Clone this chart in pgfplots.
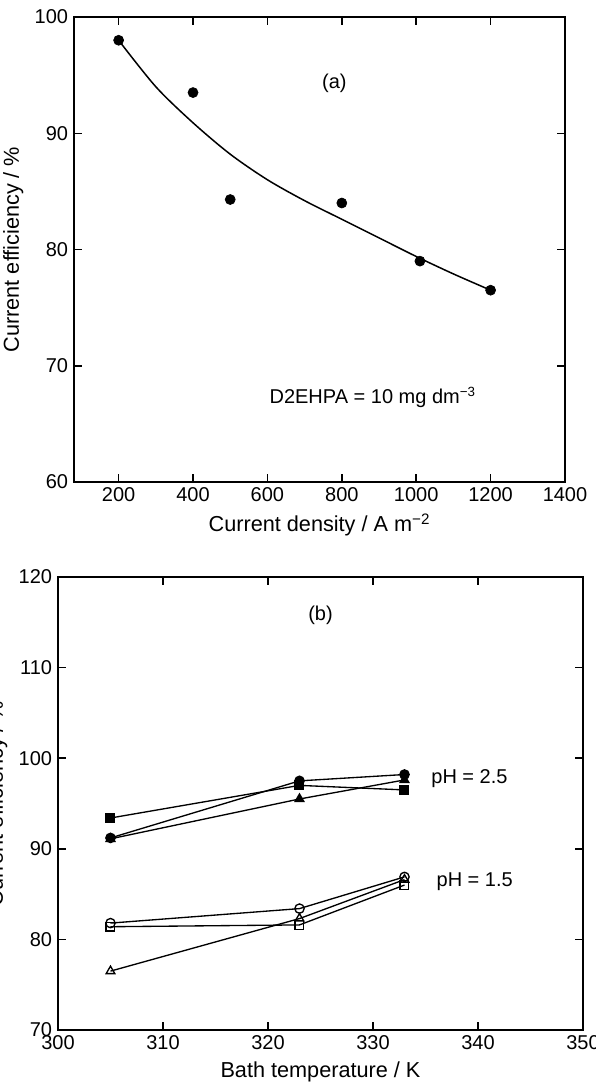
\documentclass[border=0pt]{standalone}
\usepackage{pgfplots}
\pgfplotsset{compat=1.18}
\usepackage{fontspec}
\setmainfont{Liberation Sans}
\pgfplotsset{
  every axis/.append style={
    scale only axis,
    axis line style={line width=1.1pt},
    tick style={line width=0.9pt, black},
    major tick length=5pt,
    tick align=inside,
    /pgf/number format/assume math mode=true,
    /pgf/number format/1000 sep={},
    ticklabel style={font=\fontsize{12}{14}\selectfont},
    label style={font=\fontsize{13}{15}\selectfont},
  }
}
\begin{document}
\begin{tikzpicture}
\useasboundingbox (0,0) rectangle (357pt,-651pt);
% ---------------- (a) ----------------
\begin{axis}[
  at={(44.4pt,-10.2pt)}, anchor=north west,
  width=294.6pt, height=279pt,
  xmin=80, xmax=1400, ymin=60, ymax=100,
  xtick={200,400,...,1400}, ytick={60,70,...,100},
  xlabel={Current density / A m\textsuperscript{−2}},
  ylabel={Current efficiency / \%},
]
\addplot[smooth, line width=0.9pt, no marks] coordinates {
(200,98.0)(300,94.0)(400,90.9)(500,88.2)(600,86.0)(700,84.2)(800,82.6)(900,81.0)(1000,79.4)(1100,77.9)(1200,76.5)};
\addplot[only marks, mark=*, mark size=3pt, black] coordinates {
(200,98.0)(400,93.5)(500,84.3)(800,84.0)(1010,79.0)(1200,76.5)};
\node[font=\fontsize{12}{14}\selectfont] at (axis cs:780,94.3) {(a)};
\node[anchor=west, font=\fontsize{12}{14}\selectfont] at (axis cs:590,67.3) {D2EHPA = 10 mg dm\textsuperscript{−3}};
\end{axis}
% ---------------- (b) ----------------
\begin{axis}[
  at={(34.8pt,-346.2pt)}, anchor=north west,
  width=315pt, height=271.8pt,
  xmin=300, xmax=350, ymin=70, ymax=120,
  xtick={300,310,...,350}, ytick={70,80,...,120},
  xlabel={Bath temperature / K},
  ylabel={Current efficiency / \%},
  every axis plot/.append style={line width=0.8pt, black},
]
% pH = 2.5 (filled)
\addplot[mark=square*, mark size=2.6pt] coordinates {(305,93.4)(323,97.0)(333,96.5)};
\addplot[mark=*, mark size=2.8pt] coordinates {(305,91.2)(323,97.5)(333,98.2)};
\addplot[mark=triangle*, mark size=3pt] coordinates {(305,91.1)(323,95.5)(333,97.6)};
% pH = 1.5 (open)
\addplot[mark=o, mark size=2.8pt, mark options={fill=white}] coordinates {(305,81.8)(323,83.4)(333,86.9)};
\addplot[mark=square, mark size=2.6pt, mark options={fill=white}] coordinates {(305,81.4)(323,81.6)(333,86.0)};
\addplot[mark=triangle, mark size=3pt, mark options={fill=white}] coordinates {(305,76.5)(323,82.3)(333,86.6)};
\node[font=\fontsize{12}{14}\selectfont] at (axis cs:325,115.8) {(b)};
\node[anchor=west, font=\fontsize{12}{14}\selectfont] at (axis cs:335,97.7) {pH = 2.5};
\node[anchor=west, font=\fontsize{12}{14}\selectfont] at (axis cs:335.5,86.4) {pH = 1.5};
\end{axis}
\end{tikzpicture}
\end{document}
